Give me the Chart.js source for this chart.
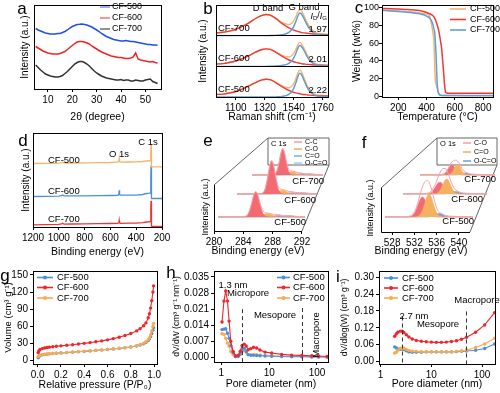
<!DOCTYPE html>
<html>
<head>
<meta charset="utf-8">
<script src="https://cdn.jsdelivr.net/npm/chart.js@4.4.1/dist/chart.umd.min.js"></script>
<style>
  html, body { margin: 0; padding: 0; background: #fff; }
  #fig { position: relative; width: 500px; height: 393px; overflow: hidden; background: #fff; }
  #fig canvas { position: absolute; left: 0; top: 0; }
</style>
</head>
<body>
<div id="fig">
  <canvas id="ca" width="500" height="393"></canvas>
  <canvas id="cb" width="500" height="393"></canvas>
  <canvas id="cc" width="500" height="393"></canvas>
  <canvas id="cd" width="500" height="393"></canvas>
  <canvas id="ce" width="500" height="393"></canvas>
  <canvas id="cf" width="500" height="393"></canvas>
  <canvas id="cg" width="500" height="393"></canvas>
  <canvas id="ch" width="500" height="393"></canvas>
  <canvas id="ci" width="500" height="393"></canvas>
</div>
<script>
'use strict'

// ---------- a: XRD (a.u.) ----------
const XRD_ANGLE = [5,6,7,8,9,10,11,12,13,14,15,16,17,18,19,20,21,22,23,24,25,26,27,28,29,30,31,32,33,34,35,36,37,38,39,40,41,42,43,44,45,46,47,48,49,50,51,52,53,54,55];
const XRD_CF500 = [59.5,58,57,56,55,54.5,54,54,54,54.5,54.5,55.5,56.5,58,60,61.5,62.5,63.5,63.7,64,63.5,63,62,61,59.5,58,56.5,54.5,53,51.5,50.5,49.5,48.5,48,47.5,47,47,47.5,47,46.5,46.5,46,45.5,45,44.5,44,43.5,43.5,43,43,42.7];
const XRD_CF600 = [41.5,40,38.5,37,36,35,34.5,34,34,34,34.5,35.5,36.5,38.5,40.5,42.5,44.5,46,46.5,46.5,46,45,44,42,40.5,39,37.5,36,35,34,33,32,31.5,31,30.5,30.5,30,29.5,29.5,30,31,35,29,28,27.5,27,26.5,26,26.5,25.5,25];
const XRD_CF700 = [23,20.5,18,16,14,13,12,11.5,11,11,11.5,12.5,14.5,16.5,19,21.5,24,25.5,26.5,26.5,25.5,24,22,19.5,17,15,13.5,12,11,10,9.5,9,8.5,8,8,8.5,7.5,8,8,7,7,8,7.5,7,7,8,8.5,9,6.5,5.5,4.5];

// ---------- b: Raman (fraction of each sub-panel) ----------
const RAMAN_SHIFT = [950,1000,1050,1100,1150,1200,1250,1300,1330,1360,1400,1450,1500,1530,1555,1570,1585,1600,1620,1640,1660,1700,1750,1800];
const D_BAND_500 = [.08,.095,.13,.18,.26,.36,.47,.56,.58,.565,.48,.34,.22,.17,.135,.12,.105,.09,.08,.07,.06,.045,.035,.03];
const G_BAND_500 = [0,0,0,0,0,0,0,0,0,0,.005,.02,.08,.20,.45,.65,.78,.72,.52,.33,.19,.05,.02,.01];
const FIT_500 = [.08,.095,.13,.18,.26,.36,.47,.56,.58,.565,.485,.36,.30,.37,.585,.77,.885,.81,.60,.40,.25,.095,.055,.04];
const D_BAND_600 = [.075,.09,.125,.175,.25,.35,.46,.55,.57,.555,.47,.33,.215,.165,.13,.115,.10,.085,.075,.065,.06,.04,.035,.025];
const G_BAND_600 = [0,0,0,0,0,0,0,0,0,.005,.01,.03,.09,.20,.41,.58,.68,.64,.50,.33,.20,.06,.02,.01];
const FIT_600 = [.075,.09,.125,.175,.25,.35,.46,.55,.57,.56,.48,.36,.305,.365,.54,.695,.78,.725,.575,.395,.26,.10,.055,.035];
const D_BAND_700 = [.09,.11,.15,.21,.30,.42,.56,.66,.69,.67,.57,.40,.26,.20,.16,.14,.12,.10,.09,.08,.07,.05,.04,.03];
const G_BAND_700 = [0,0,0,0,0,0,0,0,0,.005,.01,.03,.10,.22,.45,.63,.74,.70,.54,.36,.22,.07,.02,.01];
const FIT_700 = [.09,.11,.15,.21,.30,.42,.56,.66,.69,.675,.58,.43,.36,.42,.61,.77,.85,.80,.63,.44,.29,.12,.06,.04];
const ID_IG = ['2.22', '2.01', '1.97'];

// ---------- c: TGA (wt%) ----------
const TGA_TEMP = [85,150,200,250,300,350,400,420,435,445,452,459,462,466,470,475,482,490,494,500,506,512,518,524,529,533,536,545,555,600,700,800,870];
const TGA_CF500 = [97.2,96.8,96.3,95.7,95,94,92.8,91,81,72,62.5,30,18.5,15,12,9,5.5,2.8,1.9,1.2,0.9,0.8,0.7,0.7,0.7,0.7,0.7,0.7,0.7,0.6,0.5,0.5,0.5];
const TGA_CF600 = [99.1,98.8,98.4,98,97.6,96.8,94.5,93.2,92,90.8,89.5,87.5,86.5,85,83,80.5,77,71,67,61,55,44,32.5,20,10,5.5,3.8,3.4,3.3,3.3,3.2,3.2,3.2];
const TGA_CF700 = [96.9,96.3,95.7,95,94.2,93,90.5,88.5,85,81,76,70,62,51,35,15,4.5,1.8,1.1,0.9,0.8,0.8,0.8,0.8,0.8,0.8,0.8,0.8,0.8,0.8,0.8,0.8,0.8];

// ---------- d: XPS survey (a.u.) ----------
const SURVEY_BE = [1200,1100,1000,980,970,960,900,800,700,600,545,535,532,529,520,450,400,350,320,300,290,287,285,283,280,250,200];
const SURVEY_CF500 = [63,63.2,63.3,63.8,64.5,63.5,63.5,63.7,63.9,64,64.3,65,68.3,64.8,64.4,64.5,64.7,65,65.7,65.5,66,75,82.3,62,59.7,59.7,59.7];
const SURVEY_CF600 = [30,30.2,30.4,30.8,31.5,30.6,30.6,30.7,30.9,31,31.2,32,36.3,31.8,31.3,31.3,31.3,32,33,33.3,33.5,48,60.7,30,28,28,28];
const SURVEY_CF700 = [1.7,1.9,2.2,2.6,3.2,2.4,2.5,2.7,2.8,3,3.1,3.6,6.3,3.5,3.2,3.3,3.4,3.8,4.5,4.7,5,17,25.7,1,0,0,0];

// ---------- e: C 1s (a.u., above each layer baseline) ----------
const C1S_BE = [280,283.6,284.2,284.6,284.9,285.2,285.5,285.8,286.2,286.6,287,287.4,287.8,288.2,288.6,289,289.4,289.8,290.4,291,292];
const C1S_CC_500 = [0,0.15,3.4,12.2,20.9,25,20.9,12.2,3.4,0.5,0.05,0,0,0,0,0,0,0,0,0,0];
const C1S_CO_500 = [0,0,0,0,0.05,0.17,0.47,1.05,2.3,3.3,3.3,2.3,1.05,0.35,0.07,0,0,0,0,0,0];
const C1S_CDO_500 = [0,0,0,0,0,0,0,0,0,0,0.06,0.36,1.1,1.76,1.5,0.68,0.16,0.02,0,0,0];
const C1S_OCO_500 = [0,0,0,0,0,0,0,0,0,0,0,0,0,0.01,0.11,0.42,0.92,1.2,0.66,0.11,0];
const C1S_ENV_500 = [0.4,0.55,3.8,12.6,21.4,25.6,21.8,13.7,6.1,4.2,3.8,3.1,2.6,2.5,2.1,1.5,1.5,1.6,1.05,0.5,0.4];
const C1S_CC_600 = [0,0.2,4.5,16.2,27.5,33,27.5,16.2,4.5,0.7,0.05,0,0,0,0,0,0,0,0,0,0];
const C1S_CO_600 = [0,0,0,0,0.06,0.2,0.54,1.2,2.6,3.8,3.8,2.6,1.2,0.4,0.08,0,0,0,0,0,0];
const C1S_CDO_600 = [0,0,0,0,0,0,0,0,0,0,0.05,0.32,0.98,1.57,1.34,0.6,0.14,0.02,0,0,0];
const C1S_OCO_600 = [0,0,0,0,0,0,0,0,0,0,0,0,0,0.01,0.11,0.42,0.92,1.2,0.66,0.11,0];
const C1S_ENV_600 = [0.4,0.6,4.9,16.6,28,33.6,28.4,17.8,7.5,4.9,4.3,3.3,2.6,2.4,1.9,1.4,1.45,1.6,1.05,0.5,0.4];
const C1S_CC_700 = [0,0.15,3.5,12.7,21.7,26,21.7,12.7,3.5,0.5,0.05,0,0,0,0,0,0,0,0,0,0];
const C1S_CO_700 = [0,0,0,0,0.05,0.17,0.47,1.05,2.3,3.3,3.3,2.3,1.05,0.35,0.07,0,0,0,0,0,0];
const C1S_CDO_700 = [0,0,0,0,0,0,0,0,0,0,0.05,0.3,0.92,1.47,1.25,0.56,0.14,0.02,0,0,0];
const C1S_OCO_700 = [0,0,0,0,0,0,0,0,0,0,0,0,0,0.01,0.09,0.35,0.77,1,0.55,0.09,0];
const C1S_ENV_700 = [0.4,0.55,3.9,13.1,22.2,26.6,22.6,14.2,6.2,4.2,3.8,3,2.4,2.3,1.8,1.3,1.3,1.4,0.95,0.5,0.4];

// ---------- f: O 1s (a.u., above each layer baseline) ----------
const O1S_BE = [526,529,530,530.5,531,531.5,532,532.4,532.8,533.2,533.6,534,534.4,534.8,535.2,535.6,536,536.5,537,538,540,542];
const O1S_CO_500 = [0,0,0.05,0.3,1.6,5.3,12.1,17.6,20,17.6,12.1,6.5,2.7,0.9,0.2,0.05,0,0,0,0,0,0];
const O1S_CDO_500 = [0,0,0,0,0,0.1,0.65,2.4,6.4,13,20,23,20,13,6.4,2.4,0.65,0.1,0,0,0,0];
const O1S_OCO_500 = [0,0,0,0,0,0,0,0,0,0,0,0.28,0.75,1.6,2.6,3.4,3.4,2.4,1.1,0.08,0,0];
const O1S_ENV_500 = [0.5,0.5,0.6,1,2.5,7,15,23,30,35,36.5,35,29,20.5,12,6.5,4.3,2.8,1.6,0.8,0.5,0.5];
const O1S_CO_600 = [0,0,0,0.1,0.5,2.1,5.5,9,11.6,11.6,9,5.5,2.6,1,0.3,0.05,0,0,0,0,0,0];
const O1S_CDO_600 = [0,0,0,0,0,0,0.15,0.6,2,5.1,9.7,13.8,14.9,12,7.3,3.3,1.1,0.2,0,0,0,0];
const O1S_OCO_600 = [0,0,0,0,0,0,0,0,0,0,0,0.1,0.35,0.8,1.5,2.2,2.5,2.05,1.15,0.1,0,0];
const O1S_ENV_600 = [0.5,0.5,0.5,0.7,1.3,3.5,8,13,18.5,23,25.5,25.5,23,17.5,11.5,7,4.2,2.5,1.5,0.8,0.5,0.5];
const O1S_CO_700 = [0,0,0,0.1,0.6,2.2,5.7,8.7,10,8.7,5.7,2.8,1,0.3,0.05,0,0,0,0,0,0,0];
const O1S_CDO_700 = [0,0,0,0,0,0,0.2,0.8,2.4,5.5,8.9,10.5,8.9,5.5,2.4,0.8,0.2,0,0,0,0,0];
const O1S_OCO_700 = [0,0,0,0,0,0,0,0,0,0,0.09,0.27,0.64,1.2,1.75,2,1.75,1.06,0.43,0.02,0,0];
const O1S_ENV_700 = [0.5,0.5,0.5,0.6,1.1,2.8,6.5,10,13,14.5,14.7,14,11.5,8,5,3.3,2.3,1.5,1,0.6,0.5,0.5];

// ---------- g: N2 isotherms (cm3/g) ----------
const P_REL = [0.005,0.01,0.02,0.04,0.06,0.08,0.1,0.13,0.16,0.2,0.25,0.3,0.35,0.4,0.45,0.5,0.55,0.6,0.65,0.7,0.75,0.8,0.85,0.88,0.91,0.93,0.95,0.96,0.97,0.98,0.99,0.995];
const VOL_CF500 = [5,7,8.5,10,10.8,11.3,11.8,12.3,12.8,13.3,14,14.8,15.5,16.2,17,17.8,18.6,19.4,20.3,21.3,22.4,23.7,25.5,27.3,29.5,31.5,35,38,42,47,53,58];
const VOL_CF600 = [14,17,19.5,21,22,23,23.5,24.3,25,25.8,26.8,27.8,29,30.2,31.5,33,34.5,36.3,38.5,41,44,47.5,52,56,61,66,75,82,92,105,120,131];
const VOL_CF700 = [7,8.5,9.5,10.5,11,11.5,12,12.5,13,13.5,14.2,15,15.7,16.5,17.2,18,18.8,19.7,20.6,21.6,22.7,24,26,28,30.5,33,37,40,45,52,60,65];

// ---------- h: dV/dW ----------
const PORE_H = [1.03,1.13,1.23,1.34,1.45,1.57,1.76,1.97,2.24,2.47,2.71,2.99,3.3,3.63,4.13,4.7,5.45,6.4,8.2,11.3,18.3,29.6,48,78,108,163];
const DVDW_CF500 = [0.0121,0.0123,0.0125,0.0105,0.0083,0.0052,0.002,0.0004,0.0004,0.0014,0.0033,0.004,0.0026,0.0012,0.0009,0.0009,0.0008,0.0007,0.0006,0.0005,0.0004,0.0003,0.0003,0.0002,0.0002,0.0002];
const DVDW_CF600 = [0.0154,0.0245,0.0289,0.0245,0.0158,0.007,0.0026,0.0007,0.0009,0.0026,0.0052,0.0058,0.005,0.0033,0.0038,0.0044,0.0041,0.0032,0.0023,0.0019,0.0013,0.001,0.0009,0.0007,0.0006,0.0004];
const DVDW_CF700 = [0.0103,0.0101,0.0083,0.0062,0.0048,0.0026,0.0012,0.0004,0.0005,0.0017,0.0027,0.0032,0.0022,0.0012,0.0012,0.0013,0.0012,0.001,0.0008,0.0007,0.0005,0.0004,0.0004,0.0003,0.0003,0.0002];

// ---------- i: dV/dlog(W) ----------
const PORE_I = [1.89,2.04,2.19,2.44,2.68,2.88,3.21,3.61,4.2,5.06,6.35,7.95,10,12.55,15.8,19.8,24.9,31.3,39.3,49.4,74.6,112.6,177];
const DVDLOG_CF500 = [0.052,0.048,0.045,0.043,0.044,0.042,0.038,0.034,0.033,0.033,0.033,0.034,0.034,0.034,0.034,0.034,0.034,0.035,0.036,0.037,0.04,0.046,0.062];
const DVDLOG_CF600 = [0.09,0.098,0.104,0.108,0.108,0.103,0.095,0.087,0.08,0.075,0.072,0.07,0.069,0.068,0.068,0.069,0.071,0.074,0.079,0.086,0.104,0.13,0.174];
const DVDLOG_CF700 = [0.03,0.033,0.04,0.046,0.048,0.047,0.043,0.039,0.037,0.036,0.035,0.035,0.035,0.035,0.035,0.035,0.035,0.036,0.038,0.041,0.05,0.062,0.083];

// tick labels
const TICKS_A = [10,20,30,40,50];
const TICKS_B = [1100,1320,1540,1760];
const TICKS_C_X = [200,400,600,800];
const TICKS_C_Y = [0,20,40,60,80,100];
const TICKS_D = [1200,1000,800,600,400,200];
const TICKS_E = [280,284,288,292];
const TICKS_F = [528,532,536,540];
const TICKS_G_X = [0,0.2,0.4,0.6,0.8,1.0];
const TICKS_G_Y = [0,30,60,90,120,150];
const TICKS_LOG = [1,10,100];
const TICKS_H_Y = [0,0.007,0.014,0.021,0.028,0.035];
const TICKS_I_Y = [0,0.06,0.12,0.18,0.24,0.30];

// ---------------------------------------------------------------
const FONT = '"Liberation Sans", Arial, Helvetica, sans-serif';
Chart.defaults.font.family = FONT;
Chart.defaults.font.size = 10;
Chart.defaults.color = '#000';
const TS = 10.5;

const CF_BLUE = '#4a8fdb', CF_RED = '#f0262b', CF_ORANGE = '#f8aa4c';
const PK_RED = '#f36a73', PK_ORANGE = '#f5b160', PK_BLUE = '#86b7e2', PK_LBLUE = '#a9cde9', PK_ENV = '#f5a3aa';

// layout: plot area [left, top, right, bottom] in page pixels
function place(area, ytx, xty, yts) {
  const hy = yts * 1.2 / 2, hx = TS * 1.2 / 2;
  const padL = Math.round(ytx - hy), padB = Math.round(393 - xty - hx);
  return {
    padding: {left: padL, top: area[1], right: 500 - area[2], bottom: padB},
    xFit: s => { s.height = 393 - padB - area[3]; s.paddingLeft = 0; s.paddingRight = 0; },
    yFit: s => { s.width = area[0] - padL; s.paddingTop = 0; s.paddingBottom = 0; }
  };
}

function axis(pos, o) {
  const ax = {
    type: o.log ? 'logarithmic' : 'linear',
    position: pos,
    min: o.min, max: o.max,
    reverse: !!o.reverse,
    afterFit: o.fit,
    border: {display: o.border !== false, color: '#000', width: 1},
    grid: {display: !!o.ticks, drawOnChartArea: false, drawTicks: true, tickLength: 3, color: '#000', lineWidth: 1},
    ticks: {display: !!o.ticks, font: {size: o.tf || 10}, color: '#000', padding: o.tp === undefined ? 2 : o.tp,
            maxRotation: 0, autoSkip: false, callback: o.fmt || (v => String(v))},
    title: {display: !!o.title, text: o.title || '', color: '#000', padding: 0, font: {size: o.ts || TS}}
  };
  if (o.ticks) ax.afterBuildTicks = s => { s.ticks = o.ticks.map(v => ({value: v})); };
  return ax;
}

function ser(xs, ys, color, extra) {
  return Object.assign({
    data: xs.map((x, i) => ({x: x, y: ys[i]})),
    borderColor: color, backgroundColor: color, borderWidth: 1.2,
    pointRadius: 0, fill: false, tension: 0
  }, extra || {});
}

function build(id, cfg) {
  const p = place(cfg.area, cfg.ytx, cfg.xty, cfg.y.ts || TS);
  cfg.x.fit = p.xFit;
  cfg.y.fit = p.yFit;
  return new Chart(document.getElementById(id), {
    type: 'line',
    data: {datasets: cfg.sets},
    options: {
      responsive: false, animation: false, devicePixelRatio: 1, events: [],
      layout: {padding: p.padding},
      scales: {x: axis('bottom', cfg.x), y: axis('left', cfg.y)},
      plugins: {legend: {display: false}, tooltip: {enabled: false}},
      elements: {point: {radius: 0}}
    },
    plugins: [{
      id: 'deco',
      beforeDatasetsDraw: c => { if (cfg.under) cfg.under(c); },
      afterDatasetsDraw: c => { if (cfg.over) cfg.over(c); }
    }]
  });
}

// ---- drawing helpers ----
function txt(ctx, s, x, y, o) {
  o = o || {};
  ctx.save();
  ctx.font = (o.italic ? 'italic ' : '') + (o.size || 10) + 'px ' + FONT;
  ctx.fillStyle = o.color || '#000';
  ctx.textAlign = o.align || 'left';
  ctx.textBaseline = 'middle';
  ctx.translate(x, y);
  if (o.rot) ctx.rotate(o.rot);
  ctx.fillText(s, 0, 0);
  ctx.restore();
}
function letter(ctx, s, x, y) { txt(ctx, s, x, y, {size: 17, align: 'center'}); }
function al(v) { return Math.round(v - 0.5) + 0.5; }
function frameBox(c) {
  const ctx = c.ctx, a = c.chartArea;
  ctx.save(); ctx.strokeStyle = '#000'; ctx.lineWidth = 1;
  ctx.strokeRect(al(a.left), al(a.top), al(a.right) - al(a.left), al(a.bottom) - al(a.top));
  ctx.restore();
}
function legend(ctx, items, x0, x1, tx, ys, size, dot) {
  items.forEach((it, k) => {
    ctx.save();
    ctx.strokeStyle = it[1]; ctx.lineWidth = 1.6;
    ctx.beginPath(); ctx.moveTo(x0, ys[k]); ctx.lineTo(x1, ys[k]); ctx.stroke();
    if (dot) { ctx.fillStyle = it[1]; ctx.beginPath(); ctx.arc((x0 + x1) / 2, ys[k], 2, 0, Math.PI * 2); ctx.fill(); }
    ctx.restore();
    txt(ctx, it[0], tx, ys[k], {size: size || 9.5});
  });
}
function vdash(c, xv, yv) {
  const ctx = c.ctx, x = al(c.scales.x.getPixelForValue(xv));
  ctx.save(); ctx.strokeStyle = '#333'; ctx.lineWidth = 1; ctx.setLineDash([4, 3]);
  ctx.beginPath(); ctx.moveTo(x, c.scales.y.getPixelForValue(yv)); ctx.lineTo(x, c.chartArea.bottom); ctx.stroke();
  ctx.restore();
}
function ratioLabel(ctx, xr, y) {
  const parts = [['I', 'italic 9px '], ['D', '6px '], ['/', '9px '], ['I', 'italic 9px '], ['G', '6px ']];
  ctx.save(); ctx.fillStyle = '#000'; ctx.textBaseline = 'middle'; ctx.textAlign = 'left';
  let w = 0;
  parts.forEach(p => { ctx.font = p[1] + FONT; w += ctx.measureText(p[0]).width; });
  let x = xr - w;
  parts.forEach(p => {
    ctx.font = p[1] + FONT;
    ctx.fillText(p[0], x, p[1].indexOf('6px') === 0 ? y + 2.5 : y);
    x += ctx.measureText(p[0]).width;
  });
  ctx.restore();
}
// 3D waterfall frame: front face [e0..e1] x [0..h], back plane to the chart top/right
function frame3d(c, d) {
  const ctx = c.ctx, a = c.chartArea, sx = c.scales.x, sy = c.scales.y;
  const fx0 = sx.getPixelForValue(d.e0), fx1 = sx.getPixelForValue(d.e1);
  const fy0 = sy.getPixelForValue(0), fyt = sy.getPixelForValue(d.h);
  const bl = fx0 + d.dx, bt = a.top, br = a.right - 1, bb = sy.getPixelForValue(d.back);
  ctx.save(); ctx.strokeStyle = '#555'; ctx.lineWidth = 0.9;
  ctx.beginPath();
  ctx.moveTo(fx0, fyt); ctx.lineTo(bl, bt);
  ctx.rect(bl, bt, br - bl, bb - bt);
  ctx.moveTo(fx1, fy0); ctx.lineTo(br, bb);
  ctx.stroke();
  ctx.strokeStyle = '#000'; ctx.lineWidth = 1;
  ctx.beginPath();
  ctx.moveTo(al(fx0), fyt); ctx.lineTo(al(fx0), al(fy0)); ctx.lineTo(fx1, al(fy0));
  ctx.stroke();
  ctx.restore();
}

// ================= a =================
build('ca', {
  area: [34, 5, 161, 89], ytx: 25, xty: 117,
  x: {min: 4.3, max: 56.4, ticks: TICKS_A, title: '2θ (degree)'},
  y: {min: -1, max: 83, title: 'Intensity (a.u.)', ts: 10},
  sets: [
    ser(XRD_ANGLE, XRD_CF500, '#1f4fe6', {borderWidth: 1.5}),
    ser(XRD_ANGLE, XRD_CF600, '#ef2424', {borderWidth: 1.5}),
    ser(XRD_ANGLE, XRD_CF700, '#333333', {borderWidth: 1.5})
  ],
  over: c => {
    frameBox(c);
    legend(c.ctx, [['CF-500', '#7fa0f0'], ['CF-600', '#f47e7e'], ['CF-700', '#777777']], 100, 110, 112, [7, 18, 29], 9);
    letter(c.ctx, 'a', 22, 9);
  }
});

// ================= b =================
const ramanSets = [];
[[D_BAND_500, G_BAND_500, FIT_500], [D_BAND_600, G_BAND_600, FIT_600], [D_BAND_700, G_BAND_700, FIT_700]].forEach((g, k) => {
  const up = v => v + k;
  const sm = {borderWidth: 1.4, cubicInterpolationMode: 'monotone'};
  ramanSets.push(ser(RAMAN_SHIFT, g[1].map(up), '#5b9bd5', sm));
  ramanSets.push(ser(RAMAN_SHIFT, g[0].map(up), '#ef3e36', sm));
  ramanSets.push(ser(RAMAN_SHIFT, g[2].map(up), '#f7b66f', sm));
});
build('cb', {
  area: [216, 5, 328, 97], ytx: 203, xty: 117,
  x: {min: 950, max: 1800, ticks: TICKS_B, title: 'Raman shift (cm⁻¹)'},
  y: {min: 0, max: 3, title: 'Intensity (a.u.)', ts: 10},
  sets: ramanSets,
  over: c => {
    const ctx = c.ctx, a = c.chartArea, sy = c.scales.y;
    frameBox(c);
    ctx.save(); ctx.strokeStyle = '#000'; ctx.lineWidth = 1;
    [1, 2].forEach(v => { const y = al(sy.getPixelForValue(v)); ctx.beginPath(); ctx.moveTo(a.left, y); ctx.lineTo(a.right, y); ctx.stroke(); });
    ctx.restore();
    ['CF-500', 'CF-600', 'CF-700'].forEach((s, k) => {
      txt(ctx, s, 218, sy.getPixelForValue(k + 0.25), {size: 9.5});
      txt(ctx, ID_IG[k], 327, sy.getPixelForValue(k + 0.22), {size: 9.5, align: 'right'});
    });
    txt(ctx, 'D band', 268, 8, {size: 9.5, align: 'center'});
    txt(ctx, 'G band', 304, 7, {size: 9.5, align: 'center'});
    ratioLabel(ctx, 327, 16);
    letter(ctx, 'b', 208, 9);
  }
});

// ================= c =================
build('cc', {
  area: [382, 5, 493, 97], ytx: 357, xty: 117,
  x: {min: 85, max: 870, ticks: TICKS_C_X, title: 'Temperature (°C)'},
  y: {min: -1, max: 103, ticks: TICKS_C_Y, title: 'Weight (wt%)', tf: 9, tp: 0},
  sets: [
    ser(TGA_TEMP, TGA_CF600, '#f0383b', {borderWidth: 1.5, cubicInterpolationMode: 'monotone'}),
    ser(TGA_TEMP, TGA_CF700, '#5aa2dd', {borderWidth: 1.5, cubicInterpolationMode: 'monotone'}),
    ser(TGA_TEMP, TGA_CF500, '#f8b469', {borderWidth: 1.5, cubicInterpolationMode: 'monotone'})
  ],
  over: c => {
    frameBox(c);
    legend(c.ctx, [['CF-500', '#f8b469'], ['CF-600', '#f0383b'], ['CF-700', '#5aa2dd']], 450, 466, 470, [9, 19.5, 30], 9);
    letter(c.ctx, 'c', 359, 8);
  }
});

// ================= d =================
build('cd', {
  area: [33, 133, 162, 227], ytx: 26, xty: 252,
  x: {min: 200, max: 1200, reverse: true, ticks: TICKS_D, title: 'Binding energy (eV)'},
  y: {min: -0.5, max: 93.5, title: 'Intensity (a.u.)', ts: 10},
  sets: [
    ser(SURVEY_BE, SURVEY_CF500, '#f5b468', {borderWidth: 1.3}),
    ser(SURVEY_BE, SURVEY_CF600, '#4c91d3', {borderWidth: 1.3}),
    ser(SURVEY_BE, SURVEY_CF700, '#ee3535', {borderWidth: 1.3})
  ],
  over: c => {
    const ctx = c.ctx;
    frameBox(c);
    txt(ctx, 'CF-500', 48, 160, {size: 9.5});
    txt(ctx, 'CF-600', 48, 191, {size: 9.5});
    txt(ctx, 'CF-700', 48, 219, {size: 9.5});
    txt(ctx, 'O 1s', 119, 154, {size: 9.5, align: 'center'});
    txt(ctx, 'C 1s', 148, 142, {size: 9.5, align: 'center'});
    letter(ctx, 'd', 23, 141);
  }
});

// ================= e / f : 3D waterfalls =================
function layerPts(xs, ys, L, x0) {
  return xs.map((x, i) => ({x: x0 + (x - x0) * L.s + L.dx, y: L.base + ys[i]}));
}
function waterfall(xs, groups, layers, x0, colors) {
  const out = [];
  groups.forEach((g, k) => {
    const L = layers[k];
    out.push({data: layerPts(xs, g[0], L, x0), borderColor: PK_ENV, borderWidth: 1, pointRadius: 0, fill: false, cubicInterpolationMode: 'monotone'});
    for (let j = 1; j < g.length; j++) {
      out.push({data: layerPts(xs, g[j], L, x0), borderColor: colors[j - 1], backgroundColor: colors[j - 1],
        borderWidth: 0.6, pointRadius: 0, fill: {value: L.base}, cubicInterpolationMode: 'monotone'});
    }
  });
  return out;
}

// per-layer perspective: x scale factor, x shift (front-axis units), baseline height
const C1S_LAYERS = [{s: 0.989, dx: 0.55, base: 14}, {s: 0.909, dx: 3.14, base: 37}, {s: 0.807, dx: 5.18, base: 56}];
const O1S_LAYERS = [{s: 0.989, dx: 0.72, base: 15}, {s: 0.944, dx: 3.96, base: 38}, {s: 0.843, dx: 7.01, base: 57}];

build('ce', {
  area: [214, 138, 330, 231], ytx: 206, xty: 251,
  x: {min: 280, max: 295.82, ticks: TICKS_E, border: false},
  y: {min: 0, max: 93, border: false},
  sets: waterfall(C1S_BE, [
    [C1S_ENV_500, C1S_CC_500, C1S_CO_500, C1S_CDO_500, C1S_OCO_500],
    [C1S_ENV_600, C1S_CC_600, C1S_CO_600, C1S_CDO_600, C1S_OCO_600],
    [C1S_ENV_700, C1S_CC_700, C1S_CO_700, C1S_CDO_700, C1S_OCO_700]
  ], C1S_LAYERS, 280, [PK_RED, PK_ORANGE, PK_BLUE, PK_LBLUE]),
  under: c => frame3d(c, {e0: 280, e1: 292, h: 46, dx: 54, back: 66}),
  over: c => {
    const ctx = c.ctx;
    txt(ctx, 'C 1s', 271, 144, {size: 7.5});
    legend(ctx, [['C-C', PK_ENV], ['C-O', PK_ORANGE], ['C=O', PK_BLUE], ['O-C=O', PK_LBLUE]], 294, 302, 305, [142, 149, 156, 163], 7);
    txt(ctx, 'CF-700', 324, 181, {size: 9.5, align: 'right'});
    txt(ctx, 'CF-600', 316, 200, {size: 9.5, align: 'right'});
    txt(ctx, 'CF-500', 306, 222, {size: 9.5, align: 'right'});
    txt(ctx, 'Intensity (a.u.)', 206, 207, {size: 9, align: 'center', rot: -Math.PI / 2});
    txt(ctx, 'Binding energy (eV)', 258, 251, {size: TS, align: 'center'});
    letter(ctx, 'e', 208, 141);
  }
});

build('cf', {
  area: [381, 138, 498, 232], ytx: 371, xty: 251,
  x: {min: 526, max: 547.03, ticks: TICKS_F, border: false},
  y: {min: 0, max: 94, border: false},
  sets: waterfall(O1S_BE, [
    [O1S_ENV_500, O1S_CDO_500, O1S_CO_500, O1S_OCO_500],
    [O1S_ENV_600, O1S_CDO_600, O1S_CO_600, O1S_OCO_600],
    [O1S_ENV_700, O1S_CDO_700, O1S_CO_700, O1S_OCO_700]
  ], O1S_LAYERS, 526, [PK_ORANGE, PK_RED, '#6ea8dc']),
  under: c => frame3d(c, {e0: 526, e1: 542, h: 44, dx: 56, back: 67}),
  over: c => {
    const ctx = c.ctx;
    txt(ctx, 'O 1s', 440, 144, {size: 7.5});
    legend(ctx, [['C-O', PK_ENV], ['C=O', PK_ORANGE], ['O-C=O', '#6ea8dc']], 463, 471, 474, [143, 152, 161], 7);
    txt(ctx, 'CF-700', 496, 179, {size: 9.5, align: 'right'});
    txt(ctx, 'CF-600', 483, 199, {size: 9.5, align: 'right'});
    txt(ctx, 'CF-500', 474, 221, {size: 9.5, align: 'right'});
    txt(ctx, 'Intensity (a.u.)', 371, 208, {size: 9, align: 'center', rot: -Math.PI / 2});
    txt(ctx, 'Binding energy (eV)', 421, 251, {size: TS, align: 'center'});
    letter(ctx, 'f', 364, 143);
  }
});

// ================= g =================
const mk = color => ({borderWidth: 1.1, pointRadius: 1.7, pointBorderWidth: 0, pointBackgroundColor: color});
build('cg', {
  area: [33, 271, 157, 364], ytx: 8.5, xty: 385,
  x: {min: -0.04, max: 1.025, ticks: TICKS_G_X, fmt: v => v.toFixed(1), title: 'Relative pressure (P/P₀)'},
  y: {min: -6, max: 157, ticks: TICKS_G_Y, title: 'Volume (cm³ g⁻¹)', ts: 9.5},
  sets: [
    ser(P_REL, VOL_CF600, CF_RED, mk(CF_RED)),
    ser(P_REL, VOL_CF700, CF_ORANGE, mk(CF_ORANGE)),
    ser(P_REL, VOL_CF500, CF_BLUE, mk(CF_BLUE))
  ],
  over: c => {
    frameBox(c);
    legend(c.ctx, [['CF-500', CF_BLUE], ['CF-600', CF_RED], ['CF-700', CF_ORANGE]], 37, 53, 57, [277.5, 287.5, 298], 9.5, true);
    letter(c.ctx, 'g', 5, 276);
  }
});

// ================= h =================
build('ch', {
  area: [214, 271, 328, 362], ytx: 177, xty: 384,
  x: {log: true, min: 0.7, max: 170, ticks: TICKS_LOG, title: 'Pore diameter (nm)'},
  y: {min: -0.002, max: 0.0376, ticks: TICKS_H_Y, fmt: v => v.toFixed(3), title: 'dV/dW (cm³ g⁻¹ nm⁻¹)', ts: 8.5},
  sets: [
    ser(PORE_H, DVDW_CF600, CF_RED, mk(CF_RED)),
    ser(PORE_H, DVDW_CF500, CF_BLUE, mk(CF_BLUE)),
    ser(PORE_H, DVDW_CF700, CF_ORANGE, mk(CF_ORANGE))
  ],
  over: c => {
    const ctx = c.ctx;
    frameBox(c);
    vdash(c, 2.7, 0.021);
    vdash(c, 50, 0.0215);
    legend(ctx, [['CF-500', CF_BLUE], ['CF-600', CF_RED], ['CF-700', CF_ORANGE]], 277, 290, 293, [277.5, 287.5, 298], 9.5, true);
    txt(ctx, '1.3 nm', 233, 285, {size: 9.5, align: 'center'});
    txt(ctx, 'Micropore', 248, 293.5, {size: 9.5, align: 'center'});
    txt(ctx, 'Mesopore', 275, 315, {size: 9.5, align: 'center'});
    txt(ctx, 'Macropore', 316, 335, {size: 9.5, align: 'center', rot: -Math.PI / 2});
    letter(ctx, 'h', 171, 273);
  }
});

// ================= i =================
build('ci', {
  area: [379, 271, 495, 364], ytx: 345, xty: 384,
  x: {log: true, min: 0.93, max: 180, ticks: TICKS_LOG, title: 'Pore diameter (nm)'},
  y: {min: -0.009, max: 0.322, ticks: TICKS_I_Y, fmt: v => v.toFixed(2), title: 'dV/dlog(W) (cm³ g⁻¹)', ts: 8.5},
  sets: [
    ser(PORE_I, DVDLOG_CF600, CF_RED, mk(CF_RED)),
    ser(PORE_I, DVDLOG_CF700, CF_ORANGE, mk(CF_ORANGE)),
    ser(PORE_I, DVDLOG_CF500, CF_BLUE, mk(CF_BLUE))
  ],
  over: c => {
    const ctx = c.ctx;
    frameBox(c);
    vdash(c, 2.7, 0.16);
    vdash(c, 50, 0.178);
    legend(ctx, [['CF-500', CF_BLUE], ['CF-600', CF_RED], ['CF-700', CF_ORANGE]], 384, 398, 402, [278, 288, 298], 9.5, true);
    txt(ctx, '2.7 nm', 414, 316.5, {size: 9.5, align: 'center'});
    txt(ctx, 'Mesopore', 438, 324, {size: 9.5, align: 'center'});
    txt(ctx, 'Macropore', 477, 300, {size: 9.5, align: 'center'});
    letter(ctx, 'i', 338, 277);
  }
});
</script>
</body>
</html>
